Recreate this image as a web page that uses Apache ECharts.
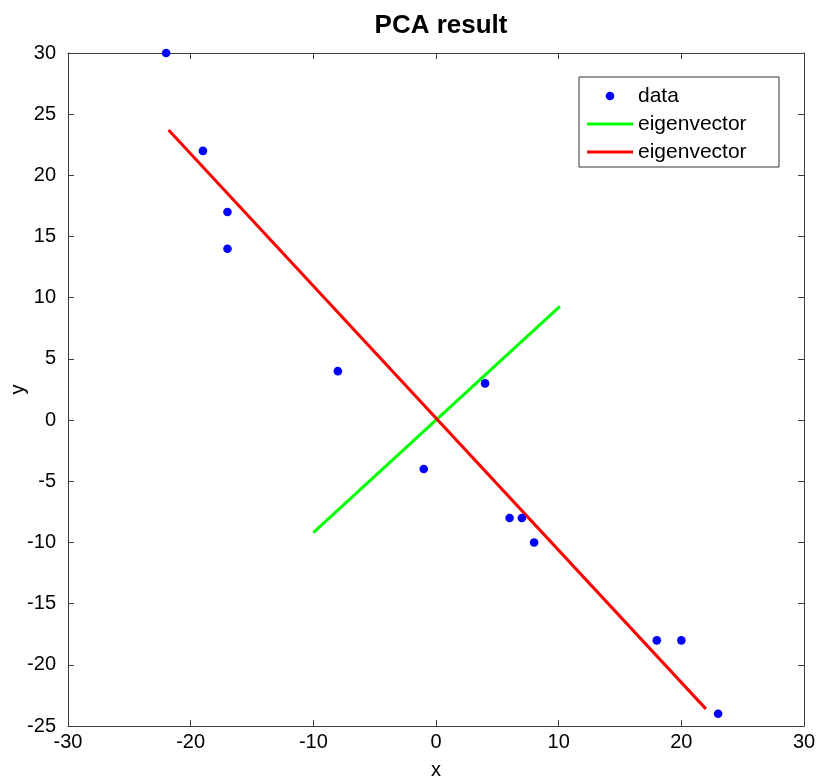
<!DOCTYPE html>
<html>
<head>
<meta charset="utf-8">
<title>PCA result</title>
<script src="https://cdn.jsdelivr.net/npm/echarts@6/dist/echarts.min.js"></script>
<style>
  html, body { margin: 0; padding: 0; background: #fff; }
  #chart { width: 818px; height: 778px; }
</style>
</head>
<body>
<div id="chart"></div>
<script>
// Sample points
const dataX = [-22, -19, -17, -17, -8, -1, 4, 6, 7, 8, 18, 20, 23];
const dataY = [30, 22, 17, 14, 4, -4, 3, -8, -8, -10, -18, -18, -24];

// Principal directions drawn as segments through the mean
const greenX = [-10, 10.1];
const greenY = [-9.2, 9.3];
const redX = [-21.8, 22];
const redY = [23.7, -23.6];

// Axis ranges
const xTicks = [-30, -20, -10, 0, 10, 20, 30];
const yTicks = [-25, -20, -15, -10, -5, 0, 5, 10, 15, 20, 25, 30];

const FONT = 'Liberation Sans, Arial, Helvetica, sans-serif';
const AXIS_COLOR = '#3c3c3c';

const zip = (xs, ys) => xs.map((x, i) => [x, ys[i]]);

const chart = echarts.init(document.getElementById('chart'), null, { renderer: 'canvas' });

const gridLeft = 68, gridTop = 53, gridW = 736, gridH = 673;

function xAxisDef(position, showLabel) {
  return {
    type: 'value', position,
    min: xTicks[0], max: xTicks[xTicks.length - 1], interval: 10,
    axisLine: { show: true, onZero: false, lineStyle: { color: AXIS_COLOR, width: 1 } },
    axisTick: { show: true, inside: true, length: 6, lineStyle: { color: AXIS_COLOR } },
    axisLabel: { show: showLabel, color: '#000', fontSize: 20, fontFamily: FONT, margin: 6 },
    splitLine: { show: false },
    name: showLabel ? 'x' : '',
    nameLocation: 'middle', nameGap: 34, nameMoveOverlap: false,
    nameTextStyle: { color: '#000', fontSize: 20, fontFamily: FONT }
  };
}
function yAxisDef(position, showLabel) {
  return {
    type: 'value', position,
    min: yTicks[0], max: yTicks[yTicks.length - 1], interval: 5,
    axisLine: { show: true, onZero: false, lineStyle: { color: AXIS_COLOR, width: 1 } },
    axisTick: { show: true, inside: true, length: 6, lineStyle: { color: AXIS_COLOR } },
    axisLabel: { show: showLabel, color: '#000', fontSize: 20, fontFamily: FONT, margin: 12 },
    splitLine: { show: false },
    name: showLabel ? 'y' : '',
    nameLocation: 'middle', nameGap: 40, nameRotate: 90, nameMoveOverlap: false,
    nameTextStyle: { color: '#000', fontSize: 20, fontFamily: FONT }
  };
}

// Legend box drawn with graphic elements (two entries share the same label)
const lgLeft = 579, lgTop = 77, lgW = 200, lgH = 90;
const rowY = [96, 124, 152];
const legendFont = '21px ' + FONT;
const legendGraphic = [
  { type: 'rect', shape: { x: lgLeft, y: lgTop, width: lgW, height: lgH },
    style: { fill: '#fff', stroke: '#333', lineWidth: 1 }, z: 10 },
  { type: 'circle', shape: { cx: 610, cy: rowY[0], r: 4.3 }, style: { fill: '#0000ff' }, z: 11 },
  { type: 'line', shape: { x1: 587, y1: rowY[1], x2: 633, y2: rowY[1] },
    style: { stroke: '#00ff00', lineWidth: 3 }, z: 11 },
  { type: 'line', shape: { x1: 587, y1: rowY[2], x2: 633, y2: rowY[2] },
    style: { stroke: '#ff0000', lineWidth: 3 }, z: 11 },
  { type: 'text', x: 638, y: rowY[0], style: { text: 'data', fill: '#000', font: legendFont, textVerticalAlign: 'middle' }, z: 11 },
  { type: 'text', x: 638, y: rowY[1], style: { text: 'eigenvector', fill: '#000', font: legendFont, textVerticalAlign: 'middle' }, z: 11 },
  { type: 'text', x: 638, y: rowY[2], style: { text: 'eigenvector', fill: '#000', font: legendFont, textVerticalAlign: 'middle' }, z: 11 }
];

chart.setOption({
  backgroundColor: '#ffffff',
  animation: false,
  title: {
    text: 'PCA result',
    left: gridLeft + gridW / 2, top: 8, textAlign: 'center',
    textStyle: { color: '#000', fontSize: 26, fontWeight: 'bold', fontFamily: FONT }
  },
  grid: { left: gridLeft, top: gridTop, width: gridW, height: gridH, containLabel: false, outerBoundsMode: 'none' },
  xAxis: [xAxisDef('bottom', true), xAxisDef('top', false)],
  yAxis: [yAxisDef('left', true), yAxisDef('right', false)],
  graphic: legendGraphic,
  series: [
    {
      name: 'data', type: 'scatter', xAxisIndex: 0, yAxisIndex: 0,
      data: zip(dataX, dataY),
      symbol: 'circle', symbolSize: 8.6,
      itemStyle: { color: '#0000ff', opacity: 1 }, z: 3
    },
    {
      name: 'eigenvector', type: 'line', xAxisIndex: 0, yAxisIndex: 0,
      data: zip(greenX, greenY), showSymbol: false, symbol: 'none',
      lineStyle: { color: '#00ff00', width: 3 }, z: 2
    },
    {
      name: 'eigenvector', type: 'line', xAxisIndex: 0, yAxisIndex: 0,
      data: zip(redX, redY), showSymbol: false, symbol: 'none',
      lineStyle: { color: '#ff0000', width: 3 }, z: 2
    }
  ]
});
</script>
</body>
</html>
